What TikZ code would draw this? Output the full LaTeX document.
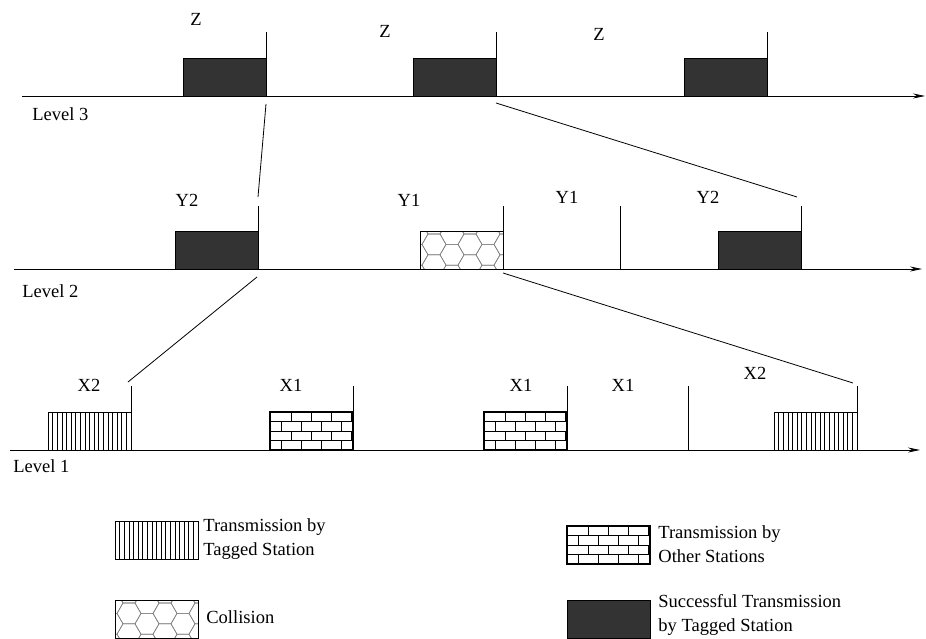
\documentclass[tikz,border=0pt]{standalone}
\usepackage{fontspec}
\setmainfont{Liberation Serif}
\usetikzlibrary{arrows.meta,calc,positioning}

\tikzset{
  lbl/.style={font=\fontsize{18.5}{24}\selectfont, inner sep=0pt},
  slot/.style={draw, line width=0.8pt, minimum width=83pt, minimum height=38pt,
               inner sep=0pt, outer sep=0pt, anchor=south east},
  ok/.style={slot, fill=black!80},
  mine/.style={slot, path picture={
      \foreach \i in {1,...,17}
        \draw[line width=0.6pt] ($(path picture bounding box.north west)+(\i*83/18,0)$)
                             -- ($(path picture bounding box.south west)+(\i*83/18,0)$);}},
  others/.style={slot, line width=1.3pt, path picture={
      \foreach \r in {0,...,3}{
        \pgfmathsetmacro\off{21-10*mod(\r,2)}
        \draw[line width=1pt] ($(path picture bounding box.north west)+(0,{\r*9.5+9.5})$) -- ++(83,0);
        \foreach \c in {0,...,3}
          \draw[line width=1pt] ($(path picture bounding box.north west)+({\off+\c*20},{\r*9.5})$) -- ++(0,9.5);
      }}},
  crash/.style={slot, path picture={
      \foreach \i in {0,...,5}
        \foreach \j in {-1,...,2}
          \draw[gray, line width=0.6pt]
            ($(path picture bounding box.north west)+({\i*18-4},{\j*20.8+mod(\i,2)*10.4+3})$)
            +(0:12) -- +(60:12) -- +(120:12) -- +(180:12) -- +(240:12) -- +(300:12) -- cycle;}},
  bar/.style={line width=0.8pt},
  zoomline/.style={line width=0.8pt}
}

\begin{document}
\begin{tikzpicture}[x=1pt, y=-1pt, >={Stealth[length=12pt,width=5pt]}, line width=0.8pt]
    \useasboundingbox (0,0) rectangle (926,639);

    % level 3
    \draw[->] (22,96) coordinate (s3) -- (925,96) coordinate (e3);
    \node[ok]   (zA) at (266,96) {};
    \node[ok]   (zB) at (496,96) {};
    \node[ok]   (zC) at (767,96) {};
    \draw[bar] (zA.south east) -- ++(0,-64);
    \draw[bar] (zB.south east) -- ++(0,-64);
    \draw[bar] (zC.south east) -- ++(0,-64);
    \node[lbl] (zlA) at (196,19) {Z};
    \node[lbl] (zlB) at (385,31) {Z};
    \node[lbl] (zlC) at (599,34) {Z};
    \node[lbl, anchor=west] (lev3) at (32,114) {Level 3};

    % level 2
    \draw[->] (14,269) coordinate (s2) -- (922,269) coordinate (e2);
    \node[ok]    (yA) at (258,269) {};
    \node[crash] (yB) at (503,269) {};
    \node[ok]    (yC) at (801,269) {};
    \coordinate  (yE) at (620,269);
    \draw[bar] (yA.south east) -- ++(0,-63);
    \draw[bar] (yB.south east) -- ++(0,-63);
    \draw[bar] (yE) -- ++(0,-63);
    \draw[bar] (yC.south east) -- ++(0,-63);
    \node[lbl] (ylA) at (187,200) {Y2};
    \node[lbl] (ylB) at (409,200) {Y1};
    \node[lbl] (ylC) at (567,197) {Y1};
    \node[lbl] (ylD) at (708,197) {Y2};
    \node[lbl, anchor=west] (lev2) at (22,291) {Level 2};

    % level 1
    \draw[->] (10,450) coordinate (s1) -- (920,450) coordinate (e1);
    \node[mine]   (xA) at (131,450) {};
    \node[others] (xB) at (353,450) {};
    \node[others] (xC) at (567,450) {};
    \node[mine]   (xD) at (857,450) {};
    \coordinate   (xE) at (688,450);
    \draw[bar] (xA.south east) -- ++(0,-64);
    \draw[bar] (xB.south east) -- ++(0,-64);
    \draw[bar] (xC.south east) -- ++(0,-64);
    \draw[bar] (xE) -- ++(0,-64);
    \draw[bar] (xD.south east) -- ++(0,-64);
    \node[lbl] (xlA) at (89,385) {X2};
    \node[lbl] (xlB) at (291,385) {X1};
    \node[lbl] (xlC) at (521,385) {X1};
    \node[lbl] (xlD) at (623,385) {X1};
    \node[lbl] (xlE) at (755,373) {X2};
    \node[lbl, anchor=west] (lev1) at (13,466) {Level 1};

    % zoom lines between levels
    \draw[zoomline] ($(zA.south east)+(0,8)$)  -- ($(yA.south east)+(0,-72)$);
    \draw[zoomline] ($(zB.south east)+(0,7)$)  -- ($(yC.south east)+(-4,-72)$);
    \draw[zoomline] ($(yA.south east)+(-1,8)$) -- ($(xA.south east)+(-3,-68)$);
    \draw[zoomline] ($(yB.south east)+(0,4)$)  -- ($(xD.south east)+(-4,-67)$);

    % legend
    \node[mine, anchor=north west]   (keyTag)  at (115,521) {};
    \node[others, anchor=north west] (keyOth)  at (567,526) {};
    \node[crash, anchor=north west]  (keyCol)  at (115,600) {};
    \node[ok, anchor=north west]     (keyOk)   at (567,600) {};
    \node[lbl, align=left, right=5pt of keyTag, yshift=1pt]  (txtTag) {Transmission by\\Tagged Station};
    \node[lbl, align=left, right=8pt of keyOth, yshift=1pt]  (txtOth) {Transmission by\\Other Stations};
    \node[lbl, align=left, right=8pt of keyCol, yshift=2pt]  (txtCol) {Collision};
    \node[lbl, align=left, right=8pt of keyOk, yshift=4pt]   (txtOk)  {Successful Transmission\\by Tagged Station};
\end{tikzpicture}
\end{document}
